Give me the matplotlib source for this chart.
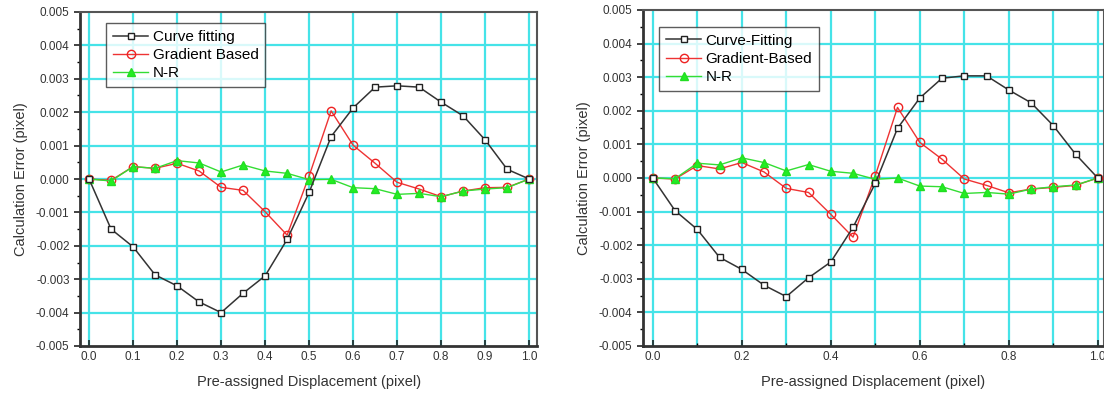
import numpy as np
import matplotlib
matplotlib.use('Agg')
import matplotlib.pyplot as plt
from matplotlib.ticker import MultipleLocator, FormatStrFormatter

plt.rcParams['font.family'] = ['Liberation Sans', 'DejaVu Sans']

# displacement steps (pixel)
disp = [0.0, 0.05, 0.1, 0.15, 0.2, 0.25, 0.3, 0.35, 0.4, 0.45, 0.5,
        0.55, 0.6, 0.65, 0.7, 0.75, 0.8, 0.85, 0.9, 0.95, 1.0]

# left panel errors (x1e-3 pixel)
left_curve = [0.0, -1.50, -2.03, -2.87, -3.20, -3.68, -4.00, -3.42, -2.90, -1.81, -0.40,
              1.27, 2.13, 2.75, 2.79, 2.75, 2.30, 1.89, 1.17, 0.29, 0.0]
left_grad = [0.0, -0.04, 0.37, 0.32, 0.47, 0.24, -0.25, -0.34, -0.98, -1.68, 0.09,
             2.04, 1.01, 0.47, -0.10, -0.30, -0.53, -0.36, -0.26, -0.25, 0.0]
left_nr = [0.0, -0.06, 0.37, 0.32, 0.55, 0.48, 0.21, 0.42, 0.24, 0.17, -0.02,
           -0.01, -0.26, -0.29, -0.46, -0.43, -0.53, -0.36, -0.30, -0.26, 0.0]

# right panel errors (x1e-3 pixel)
right_curve = [0.0, -0.97, -1.53, -2.36, -2.72, -3.19, -3.53, -2.97, -2.50, -1.47, -0.16,
               1.48, 2.38, 2.97, 3.04, 3.04, 2.62, 2.24, 1.56, 0.71, 0.0]
right_grad = [0.0, -0.03, 0.37, 0.27, 0.46, 0.18, -0.31, -0.43, -1.08, -1.76, 0.07,
              2.10, 1.06, 0.56, -0.03, -0.22, -0.44, -0.33, -0.28, -0.22, 0.0]
right_nr = [0.0, -0.02, 0.44, 0.39, 0.60, 0.46, 0.21, 0.40, 0.20, 0.14, -0.04,
            0.0, -0.24, -0.26, -0.46, -0.43, -0.48, -0.33, -0.26, -0.21, 0.0]

left_names = ['Curve fitting', 'Gradient Based', 'N-R']
right_names = ['Curve-Fitting', 'Gradient-Based', 'N-R']

GRID = '#45e3e8'


def draw_panel(ax, curve, grad, nr, names, xmajor, xlim, legend_at):
    x = np.array(disp)
    ax.plot(x, np.array(curve) * 1e-3, color='#333333', lw=1.1, marker='s', ms=4.5,
            mfc='white', mec='#222222', mew=1.0, label=names[0], zorder=4)
    ax.plot(x, np.array(grad) * 1e-3, color='#ee3333', lw=1.0, marker='o', ms=6,
            mfc='none', mec='#ee2222', mew=1.0, label=names[1], zorder=3)
    ax.plot(x, np.array(nr) * 1e-3, color='#33dd33', lw=1.0, marker='^', ms=6,
            mfc='#22ee22', mec='#22dd22', label=names[2], zorder=3)

    ax.set_xlim(*xlim)
    ax.set_ylim(-0.005, 0.005)
    ax.xaxis.set_major_locator(MultipleLocator(xmajor))
    ax.xaxis.set_minor_locator(MultipleLocator(0.1))
    ax.yaxis.set_major_locator(MultipleLocator(0.001))
    ax.yaxis.set_minor_locator(MultipleLocator(0.0005))
    ax.xaxis.set_major_formatter(FormatStrFormatter('%.1f'))
    ax.yaxis.set_major_formatter(FormatStrFormatter('%.3f'))

    # cyan grid every 0.1 in x and 0.001 in y
    for gx in np.arange(0.0, 1.01, 0.1):
        ax.axvline(gx, color=GRID, lw=1.6, zorder=1)
    for gy in np.arange(-0.004, 0.0045, 0.001):
        ax.axhline(gy, color=GRID, lw=1.6, zorder=1)

    ax.tick_params(axis='both', which='major', labelsize=8.5, length=4, width=1.2,
                   direction='out', colors='#222222', labelcolor='#333333')
    ax.tick_params(axis='both', which='minor', length=2.5, width=1.0, direction='out')
    ax.tick_params(axis='x', which='both', direction='in')
    for side in ['left', 'bottom']:
        ax.spines[side].set_linewidth(2.0)
        ax.spines[side].set_color('#333333')
    for side in ['top', 'right']:
        ax.spines[side].set_linewidth(1.5)
        ax.spines[side].set_color('#555555')

    ax.set_xlabel('Pre-assigned Displacement (pixel)', fontsize=10.5, color='#333333', labelpad=9)
    ax.set_ylabel('Calculation Error (pixel)', fontsize=10.5, color='#333333', labelpad=6)
    leg = ax.legend(loc='upper left', bbox_to_anchor=legend_at, fontsize=11,
                    frameon=True, fancybox=False, edgecolor='#333333',
                    handlelength=2.3, handletextpad=0.3, borderpad=0.45,
                    labelspacing=0.28, borderaxespad=0)
    leg.get_frame().set_linewidth(1.0)
    leg.set_zorder(5)


fig = plt.figure(figsize=(11.04, 4.0), dpi=100)
ax1 = fig.add_axes([0.0725, 0.135, 0.414, 0.835])
ax2 = fig.add_axes([0.5824, 0.135, 0.4176, 0.84])

draw_panel(ax1, left_curve, left_grad, left_nr, left_names, 0.1, (-0.0205, 1.018), (0.057, 0.967))
draw_panel(ax2, right_curve, right_grad, right_nr, right_names, 0.2, (-0.022, 1.014), (0.035, 0.95))

fig.savefig('out.png', dpi=100)
